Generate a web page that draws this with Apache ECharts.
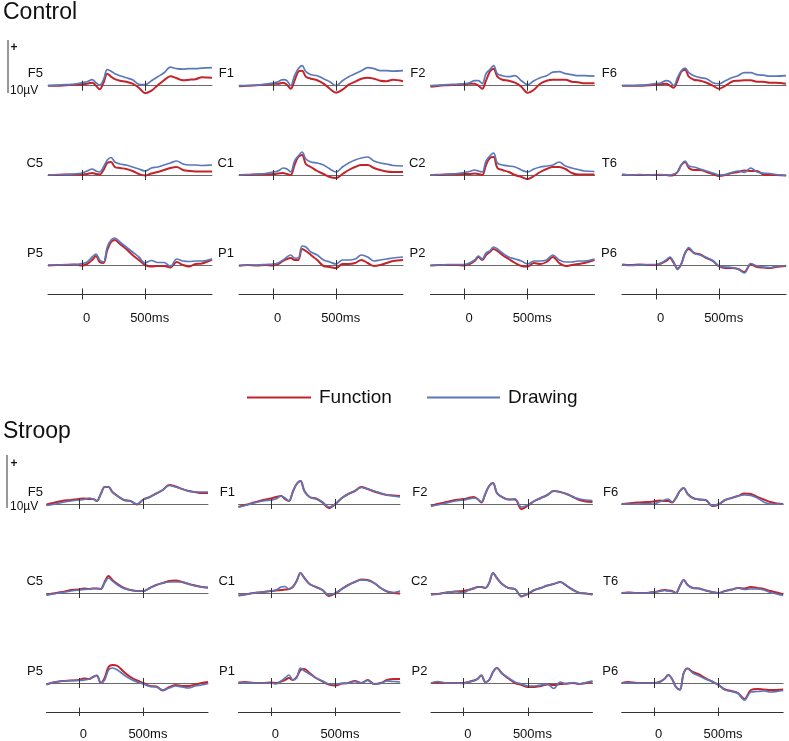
<!DOCTYPE html>
<html><head><meta charset="utf-8">
<script src="https://cdn.jsdelivr.net/npm/echarts@6/dist/echarts.min.js"></script>
<style>html,body{margin:0;padding:0;background:#fff}#c{width:789px;height:741px}</style>
</head><body><div id="c"></div>
<script>
// ---------- DATA ----------
const timesControl = [-270,-200,-130,-60,0,40,80,110,140,170,200,230,260,300,350,400,450,500,550,600,650,700,750,800,850,900,950,1030];
const timesStroop  = [-250,-200,-130,-60,0,40,80,110,140,170,200,230,260,300,350,400,450,500,550,600,650,700,750,800,850,900,950,1000];
const channelRows = [['F5','F1','F2','F6'],['C5','C1','C2','T6'],['P5','P1','P2','P6']];
const conditions = ['Control','Stroop'];
const seriesNames = ['Function','Drawing'];
const timeTickValues = [0, 500];
const timeTickLabels = ['0', '500ms'];
const scaleBarText = '10µV';
const scaleBarValue = 10; // µV

// Control (µV)
const ctrlF5Fun  = [0,0,0.1,0.2,0.3,0.4,0.6,0,-0.7,0.6,2.4,1.8,1.3,1.0,0.8,0.4,-0.4,-1.5,-1.0,0.1,1.1,1.9,1.5,1.1,1.2,1.3,1.7,1.6];
const ctrlF5Draw = [0,0.1,0.2,0.3,0.6,0.8,1.2,0.6,0.1,1.2,3.2,2.9,2.4,2.0,1.6,1.2,0.3,0.2,1.0,1.8,2.6,3.7,3.4,3.3,3.4,3.4,3.5,3.6];
const ctrlF1Fun  = [-0.1,0,0.1,0.2,0.4,0.4,0.6,0.2,-0.6,1.0,2.8,3.0,1.8,1.4,1.1,0.4,-0.6,-1.4,-0.8,0.2,0.8,1.4,1.6,1.4,1.0,0.9,1.2,0.9];
const ctrlF1Draw = [0,0,0.1,0.3,0.5,0.8,1.2,1.0,0,2.0,3.4,4.0,2.8,2.2,2.0,1.4,0.8,0,1.0,1.8,2.4,3.0,3.6,3.4,3.0,3.0,2.9,3.0];
const ctrlF2Fun  = [-0.2,0,0.1,0.2,0.3,0.4,0.4,0,-0.6,1.0,2.8,3.4,1.8,1.2,1.0,0.6,-0.2,-1.4,-0.8,0.4,1.0,1.2,1.2,1.2,0.8,0.7,0.5,0.5];
const ctrlF2Draw = [0,0.1,0.2,0.3,0.4,0.6,1.0,1.0,0.4,2.4,3.2,4.0,2.4,2.0,1.8,2.0,1.0,0.2,1.0,1.6,2.0,2.7,2.8,2.4,2.2,2.0,2.0,1.9];
const ctrlF6Fun  = [0,0,0,0.1,0.2,0.3,0.4,0,-0.4,1.0,2.8,3.2,1.8,1.2,1.0,0.6,0,-0.6,0,0.8,1.0,1.1,1.1,0.8,0.8,0.6,0.6,0.4];
const ctrlF6Draw = [0,0,0.1,0.2,0.4,0.6,1.0,0.8,0,1.6,3.0,3.5,2.6,2.0,1.6,1.4,0.6,0.4,1.0,1.6,2.0,2.6,2.6,2.2,2.1,1.9,1.9,2.0];
const ctrlC5Fun  = [0,0,0.1,0.1,0.1,0.2,0.4,0.2,0.1,1.0,2.4,2.6,1.6,1.4,1.2,0.8,0.2,-0.1,0.3,0.6,1.0,1.4,1.6,1.0,0.8,0.7,0.7,0.7];
const ctrlC5Draw = [0,0.1,0.1,0.2,0.4,0.8,1.2,0.8,0.6,1.6,3.0,3.5,2.6,2.2,2.0,1.6,1.2,0.8,1.4,1.6,2.0,2.4,2.8,2.2,2.0,2.0,1.9,2.0];
const ctrlC1Fun  = [0,0,0.1,0.1,0.2,0.3,0.4,0.2,0,2.0,3.6,4.0,2.2,1.6,0.8,0.2,-0.4,-0.6,0.2,1.0,1.6,2.0,2.0,1.4,1.0,0.7,0.6,0.6];
const ctrlC1Draw = [0,0.1,0.2,0.3,0.6,0.8,1.4,1.2,0.6,2.8,3.8,4.6,3.2,2.6,2.4,2.0,1.2,0.6,1.6,2.4,3.0,3.4,3.6,2.8,2.4,2.2,1.9,1.8];
const ctrlC2Fun  = [0,0,0.1,0.1,0.2,0.2,0.3,0.2,0,2.0,3.4,3.6,1.4,1.0,0.6,0,-0.4,-0.8,-0.2,0.6,1.2,1.6,1.6,1.2,0.4,0.1,0.1,0.1];
const ctrlC2Draw = [0,0.1,0.2,0.3,0.5,0.7,1.0,0.8,0.6,2.8,3.8,4.4,2.4,2.0,1.8,1.6,1.0,0.6,1.2,1.6,1.8,2.0,2.6,1.8,1.4,1.1,0.8,0.7];
const ctrlT6Fun  = [0.1,0,0,0,0,0,0,-0.1,0,0.6,2.0,2.6,1.4,1.0,1.0,0.6,0.2,-0.2,0,0.4,0.6,0.9,0.8,0.8,0.1,0,0,-0.1];
const ctrlT6Draw = [0.1,0,0.1,0,0.1,0.1,0,0,0.2,0.6,2.0,2.8,1.8,1.6,1.2,0.8,0.4,0,0.1,0.5,0.8,0.5,1.4,0.6,0.4,0.3,0.1,-0.1];
const ctrlP5Fun  = [-0.1,0,0,0.1,-0.1,0.2,1.0,1.8,0.6,0.4,3.0,4.6,5.0,4.2,3.2,2.0,1.0,0,-0.3,-0.2,-0.2,-0.5,0.6,0,-0.3,0.2,0.3,1.1];
const ctrlP5Draw = [0,0,0.1,0.1,0.3,0.6,1.6,2.2,1.0,0.6,3.6,5.0,5.4,4.6,3.6,2.6,1.6,0.4,0.9,0.5,0.5,-0.3,1.2,0.8,0.7,0.8,0.8,1.2];
const ctrlP1Fun  = [-0.1,0,-0.1,0,-0.1,0.2,0.8,1.2,1.4,1.0,1.0,3.2,2.8,2.0,1.0,-0.2,-0.4,-0.6,0.2,0.2,0.4,1.0,0.4,-0.2,0,0.4,0.8,1.0];
const ctrlP1Draw = [-0.2,0,0,0.1,0.2,0.4,1.0,1.6,2.0,1.4,1.4,3.8,3.6,2.6,2.0,1.0,0.6,0.2,1.0,1.0,1.2,2.0,1.6,0.8,1.0,1.2,1.4,1.6];
const ctrlP2Fun  = [-0.1,0,0,0,-0.1,0.2,0.8,1.6,1.0,2.0,2.6,3.2,2.8,2.0,1.2,0.4,-0.2,-0.3,0.4,0.2,0.6,1.6,0.4,-0.2,0,0.2,0.4,1.0];
const ctrlP2Draw = [-0.1,0,0.1,0.1,0.1,0.4,1.0,1.8,1.2,2.4,2.8,3.6,3.2,2.4,1.6,1.2,0.8,0.2,0.8,0.8,1.0,2.0,1.0,0.6,0.6,0.8,0.8,1.2];
const ctrlP6Fun  = [0.1,0,0.1,0,0,0.3,0.8,1.4,0.4,-0.7,0.2,2.4,3.2,2.4,2.1,1.4,0.8,-0.3,-0.6,-0.6,-0.8,-1.4,0.1,-0.4,-0.5,-0.6,-0.4,-0.2];
const ctrlP6Draw = [0,-0.1,0,0.1,0.1,0.4,1.0,1.6,0.6,-0.9,0.2,2.4,3.5,2.4,2.0,1.5,0.9,-0.2,-0.4,-0.5,-0.8,-1.6,0.3,-0.2,-0.4,-0.5,-0.3,-0.1];

// Stroop (µV)
const stF5Fun  = [-0.1,0.2,0.6,0.8,1.0,1.1,1.0,1.0,0.6,2.0,3.4,3.4,2.4,1.6,0.8,0.6,-0.1,0.9,1.4,2.1,2.8,3.8,3.5,3.0,2.6,2.4,2.2,2.2];
const stF5Draw = [-0.3,-0.1,0.3,0.6,0.8,0.9,1.2,1.0,0.6,2.0,3.4,3.4,2.4,1.6,0.8,0.6,0,0.9,1.4,2.1,2.8,3.7,3.4,3.0,2.6,2.4,2.4,2.4];
const stF1Fun  = [-0.6,-0.2,0.3,0.8,1.1,1.4,1.6,1.0,0.6,2.4,4.0,4.6,2.6,1.4,1.1,0.3,-0.8,0,1.2,2.0,2.6,3.4,3.0,2.5,2.1,1.8,1.7,1.6];
const stF1Draw = [-0.6,-0.3,0.2,0.6,0.8,1.0,1.6,1.2,0.6,2.4,4.0,4.6,2.6,1.4,1.0,0.4,-0.6,0,1.2,2.0,2.6,3.3,3.0,2.6,2.2,1.8,1.6,1.4];
const stF2Fun  = [-0.4,0,0.4,0.8,1.0,1.2,1.4,1.0,0.3,2.0,3.6,4.2,2.2,1.4,0.9,0.9,-1.0,-0.3,0.6,1.2,1.8,2.6,2.4,2.0,1.4,0.8,0.5,0.4];
const stF2Draw = [-0.4,-0.2,0.2,0.6,0.8,1.0,1.2,1.0,0.4,2.0,3.6,4.2,2.2,1.4,0.9,1.0,-0.6,-0.2,0.6,1.2,1.8,2.6,2.4,2.0,1.4,1.0,0.8,0.7];
const stF6Fun  = [0,0.1,0.3,0.4,0.5,0.7,0.6,0.6,0.3,1.2,2.6,3.2,2.0,1.2,0.9,0.8,-0.4,-0.1,0.8,1.2,1.6,2.1,2.0,1.4,0.9,0.4,0.1,0];
const stF6Draw = [0,0,0,0.1,0,0.4,0.8,1.0,0.4,1.2,2.6,3.2,2.0,1.2,0.9,0.8,-0.3,0,0.8,1.2,1.6,1.8,1.7,1.2,0.4,0,0,0];
const stC5Fun  = [-0.4,-0.1,0.2,0.6,0.7,0.9,0.8,0.9,0.9,0.8,2.2,3.4,2.6,1.8,1.0,0.6,0.4,0.4,1.0,1.6,2.0,2.4,2.5,2.2,1.8,1.5,1.2,1.1];
const stC5Draw = [-0.4,-0.2,0.1,0.4,0.6,0.7,0.8,0.9,0.9,0.8,2.0,3.0,2.4,1.6,0.9,0.6,0.4,0.4,1.0,1.6,2.0,2.2,2.2,2.2,1.8,1.4,1.2,1.0];
const stC1Fun  = [-0.5,-0.3,0,0.2,0.4,0.5,0.6,0.7,0.8,1.2,2.4,4.0,3.0,1.8,1.2,0.6,-0.6,-0.1,0.8,1.6,2.2,2.7,2.6,2.0,1.0,0.3,0,-0.1];
const stC1Draw = [-0.5,-0.3,0,0.2,0.4,0.6,1.2,1.3,0.8,1.2,2.4,4.0,3.0,1.8,1.2,0.6,-0.4,0,0.8,1.6,2.2,2.6,2.5,2.0,1.0,0.3,0.1,0.4];
const stC2Fun  = [-0.3,-0.2,0.1,0.3,0.4,0.6,0.9,1.2,1.2,1.0,2.0,4.0,3.0,1.8,1.0,0.8,-0.7,-0.2,0.6,1.0,1.5,1.8,2.2,1.4,0.6,0,-0.1,-0.3];
const stC2Draw = [-0.3,-0.2,0.1,0.3,0,0.6,1.0,1.2,1.2,1.0,2.0,4.0,3.0,1.8,1.0,0.8,-0.6,-0.1,0.6,1.0,1.5,1.8,2.2,1.5,0.6,0,-0.1,-0.3];
const stT6Fun  = [0,0.1,0,0,0.2,0.4,0.6,0.5,0.4,0,1.4,2.6,1.6,1.0,0.9,0.5,0.2,0,0.4,0.7,1.0,0.9,1.2,1.0,0.8,0.4,0.1,-0.3];
const stT6Draw = [0,0.1,0,0,0.2,0.3,0.5,0.4,0.3,0,1.4,2.6,1.6,1.0,0.9,0.5,0.2,0,0.4,0.6,1.0,0.7,0.8,0.8,0.6,0.1,-0.2,-0.5];
const stP5Fun  = [-0.3,0.1,0.4,0.5,0.6,0.9,0.8,1.2,1.5,0,1.0,3.2,3.6,3.4,2.2,1.2,0.5,0,-0.6,-0.7,-1.5,-0.8,-0.4,-0.6,-0.6,-0.3,0,0.2];
const stP5Draw = [-0.3,0.1,0.4,0.5,0.5,0.6,0.8,1.2,1.5,0,0.6,2.6,3.0,2.6,1.6,0.8,0.2,-0.2,-0.7,-0.8,-1.4,-1.0,-0.6,-0.8,-1.0,-0.6,-0.4,-0.1];
const stP1Fun  = [0.1,0.2,0,0,0.1,0,0.3,0.6,1.0,0.6,1.2,2.6,2.8,2.0,1.0,0.3,-0.3,-0.5,-0.1,0,0.4,0,0.6,-0.2,0,0.6,0.8,0.8];
const stP1Draw = [0,0.1,0,0,0,-0.2,0.4,1.0,1.6,0.6,1.0,3.0,2.4,1.8,1.0,0.4,-0.2,-0.2,-0.1,0,0.3,0,0.5,-0.2,-0.1,0.4,0.3,0.2];
const stP2Fun  = [0,0.1,0,0,0,0.2,0.5,0.8,1.5,0.2,0.6,2.2,3.0,1.9,0.9,0,-0.4,-0.8,-0.8,-0.6,-0.3,-0.4,-0.2,-0.1,0,-0.2,0,0.3];
const stP2Draw = [0,0.3,0,0,-0.1,0.2,0.4,0.8,1.6,0.2,0.6,2.2,3.0,1.9,1.0,0.2,-0.2,-0.6,-0.6,-0.4,-0.2,-1.1,0.2,-0.2,0.1,-0.2,0.1,0.4];
const stP6Fun  = [0,0.2,0,0,0,0.2,0.8,1.6,0.8,-0.8,-1.3,2.0,2.9,2.2,1.7,0.9,0.3,-0.4,-1.3,-1.6,-2.0,-3.2,-1.4,-1.2,-1.3,-1.4,-1.4,-1.3];
const stP6Draw = [0,0,0,0,0,0.1,0.8,1.6,0.8,-0.8,-1.4,2.0,2.9,2.0,1.4,0.8,0.3,-0.4,-1.4,-1.7,-2.1,-3.4,-1.8,-1.7,-1.6,-1.8,-1.7,-1.5];

const panelData = {
  Control: {F5:[ctrlF5Fun,ctrlF5Draw],F1:[ctrlF1Fun,ctrlF1Draw],F2:[ctrlF2Fun,ctrlF2Draw],F6:[ctrlF6Fun,ctrlF6Draw],
            C5:[ctrlC5Fun,ctrlC5Draw],C1:[ctrlC1Fun,ctrlC1Draw],C2:[ctrlC2Fun,ctrlC2Draw],T6:[ctrlT6Fun,ctrlT6Draw],
            P5:[ctrlP5Fun,ctrlP5Draw],P1:[ctrlP1Fun,ctrlP1Draw],P2:[ctrlP2Fun,ctrlP2Draw],P6:[ctrlP6Fun,ctrlP6Draw]},
  Stroop:  {F5:[stF5Fun,stF5Draw],F1:[stF1Fun,stF1Draw],F2:[stF2Fun,stF2Draw],F6:[stF6Fun,stF6Draw],
            C5:[stC5Fun,stC5Draw],C1:[stC1Fun,stC1Draw],C2:[stC2Fun,stC2Draw],T6:[stT6Fun,stT6Draw],
            P5:[stP5Fun,stP5Draw],P1:[stP1Fun,stP1Draw],P2:[stP2Fun,stP2Draw],P6:[stP6Fun,stP6Draw]}
};
const panelTimes = {Control: timesControl, Stroop: timesStroop};

// ---------- LAYOUT / STYLE ----------
const FONT = 'Liberation Sans, Arial, Helvetica, sans-serif';
const RED = '#c4232b', BLUE = '#5a78bb';
const PX_PER_UV = 5, Y_MIN = -5, Y_MAX = 7, TICK_HALF = 1;
const layout = {
  Control: {lefts:[48,239,430.5,622], width:164, baselines:[85.7,175,265], axisY:294, xMin:-270, xMax:1030,
            labelGap:5, titleY:1, bar:{x:8, yTop:40, plusY:48, textY:91}},
  Stroop:  {lefts:[46.5,238.5,431,621.7], width:161.5, baselines:[504,593,683], axisY:713, xMin:-250, xMax:1000,
            labelGap:3.5, titleY:420, bar:{x:7, yTop:455, plusY:464, textY:507}}
};

const grids = [], xAxes = [], yAxes = [], series = [], graphics = [];
const hiddenY = (gi, mn, mx) => ({type:'value', gridIndex:gi, min:mn, max:mx, axisLine:{show:false}, axisTick:{show:false}, axisLabel:{show:false}, splitLine:{show:false}});
const tickMarks = (color) => ({
  silent:true, symbol:['none','none'], animation:false, label:{show:false}, emphasis:{disabled:true},
  lineStyle:{type:'solid', color:color, width:1},
  data: timeTickValues.map(v => [{coord:[v,-TICK_HALF]},{coord:[v,TICK_HALF]}])
});

conditions.forEach(cond => {
  const L = layout[cond];
  const times = panelTimes[cond];
  channelRows.forEach((row, r) => {
    row.forEach((ch, c) => {
      const gi = grids.length;
      const base = L.baselines[r];
      grids.push({left:L.lefts[c], top:base - Y_MAX*PX_PER_UV, width:L.width, height:(Y_MAX-Y_MIN)*PX_PER_UV});
      xAxes.push({type:'value', gridIndex:gi, min:L.xMin, max:L.xMax,
        axisLine:{show:true, onZero:true, lineStyle:{color:'#6a6a6a', width:1}},
        axisTick:{show:false}, axisLabel:{show:false}, splitLine:{show:false}});
      yAxes.push(hiddenY(gi, Y_MIN, Y_MAX));
      const [fun, draw] = panelData[cond][ch];
      series.push({type:'line', name:seriesNames[0], xAxisIndex:gi, yAxisIndex:gi,
        data: times.map((t,i)=>[t, fun[i]]), smooth:0.35, showSymbol:false, symbol:'none',
        lineStyle:{color:RED, width:2}, itemStyle:{color:RED}, z:2, silent:true,
        markLine: tickMarks('#333')});
      series.push({type:'line', name:seriesNames[1], xAxisIndex:gi, yAxisIndex:gi,
        data: times.map((t,i)=>[t, draw[i]]), smooth:0.35, showSymbol:false, symbol:'none',
        lineStyle:{color:BLUE, width:1.7}, itemStyle:{color:BLUE}, z:3, silent:true});
      graphics.push({type:'text', silent:true, style:{text:ch, x:L.lefts[c]-L.labelGap, y:base-12,
        textAlign:'right', align:'right', textVerticalAlign:'middle', verticalAlign:'middle',
        font:'13px ' + FONT, fill:'#111'}});
    });
  });
  // time axes
  channelRows[0].forEach((_, c) => {
    const gi = grids.length;
    grids.push({left:L.lefts[c], top:L.axisY - 5.5, width:L.width, height:11});
    xAxes.push({type:'value', gridIndex:gi, min:L.xMin, max:L.xMax,
      axisLine:{show:true, onZero:true, lineStyle:{color:'#333', width:1}},
      axisTick:{show:false}, splitLine:{show:false},
      axisLabel:{show:true, customValues:timeTickValues, margin:12, fontSize:13, color:'#111', fontFamily:FONT,
        padding:[0,0,0,9], formatter:(v)=>timeTickLabels[timeTickValues.indexOf(v)]}});
    yAxes.push(hiddenY(gi, -TICK_HALF, TICK_HALF));
    series.push({type:'line', xAxisIndex:gi, yAxisIndex:gi, data:[[0,0]], showSymbol:false, symbol:'none',
      lineStyle:{opacity:0}, silent:true, markLine: tickMarks('#333')});
  });
  // title
  graphics.push({type:'text', silent:true, style:{text:cond, x:3, y:L.titleY, textAlign:'left', align:'left',
    textVerticalAlign:'top', verticalAlign:'top', font:'23px ' + FONT, fill:'#111'}});
  // scale bar (10 µV)
  const b = L.bar;
  graphics.push({type:'line', silent:true, shape:{x1:b.x, y1:b.yTop, x2:b.x, y2:b.yTop + scaleBarValue*PX_PER_UV + 3},
    style:{stroke:'#333', lineWidth:1}});
  graphics.push({type:'text', silent:true, style:{text:'+', x:14, y:b.plusY, textAlign:'center', align:'center',
    textVerticalAlign:'middle', verticalAlign:'middle', font:'bold 12px ' + FONT, fill:'#111'}});
  graphics.push({type:'text', silent:true, style:{text:scaleBarText, x:10, y:b.textY, textAlign:'left', align:'left',
    textVerticalAlign:'middle', verticalAlign:'middle', font:'12px ' + FONT, fill:'#111'}});
});

const legendBase = {top:388, padding:0, itemHeight:2, selectedMode:false,
  textStyle:{fontSize:19, color:'#111', fontFamily:FONT, padding:[0,0,0,3]}};
const chart = echarts.init(document.getElementById('c'), null, {renderer:'canvas'});
chart.setOption({
  animation:false,
  backgroundColor:'#fff',
  legend:[
    Object.assign({}, legendBase, {data:[{name:seriesNames[0], icon:'rect'}], left:247, itemWidth:64}),
    Object.assign({}, legendBase, {data:[{name:seriesNames[1], icon:'rect'}], left:427, itemWidth:73})
  ],
  grid:grids, xAxis:xAxes, yAxis:yAxes, series:series, graphic:graphics
});
</script>
</body></html>
